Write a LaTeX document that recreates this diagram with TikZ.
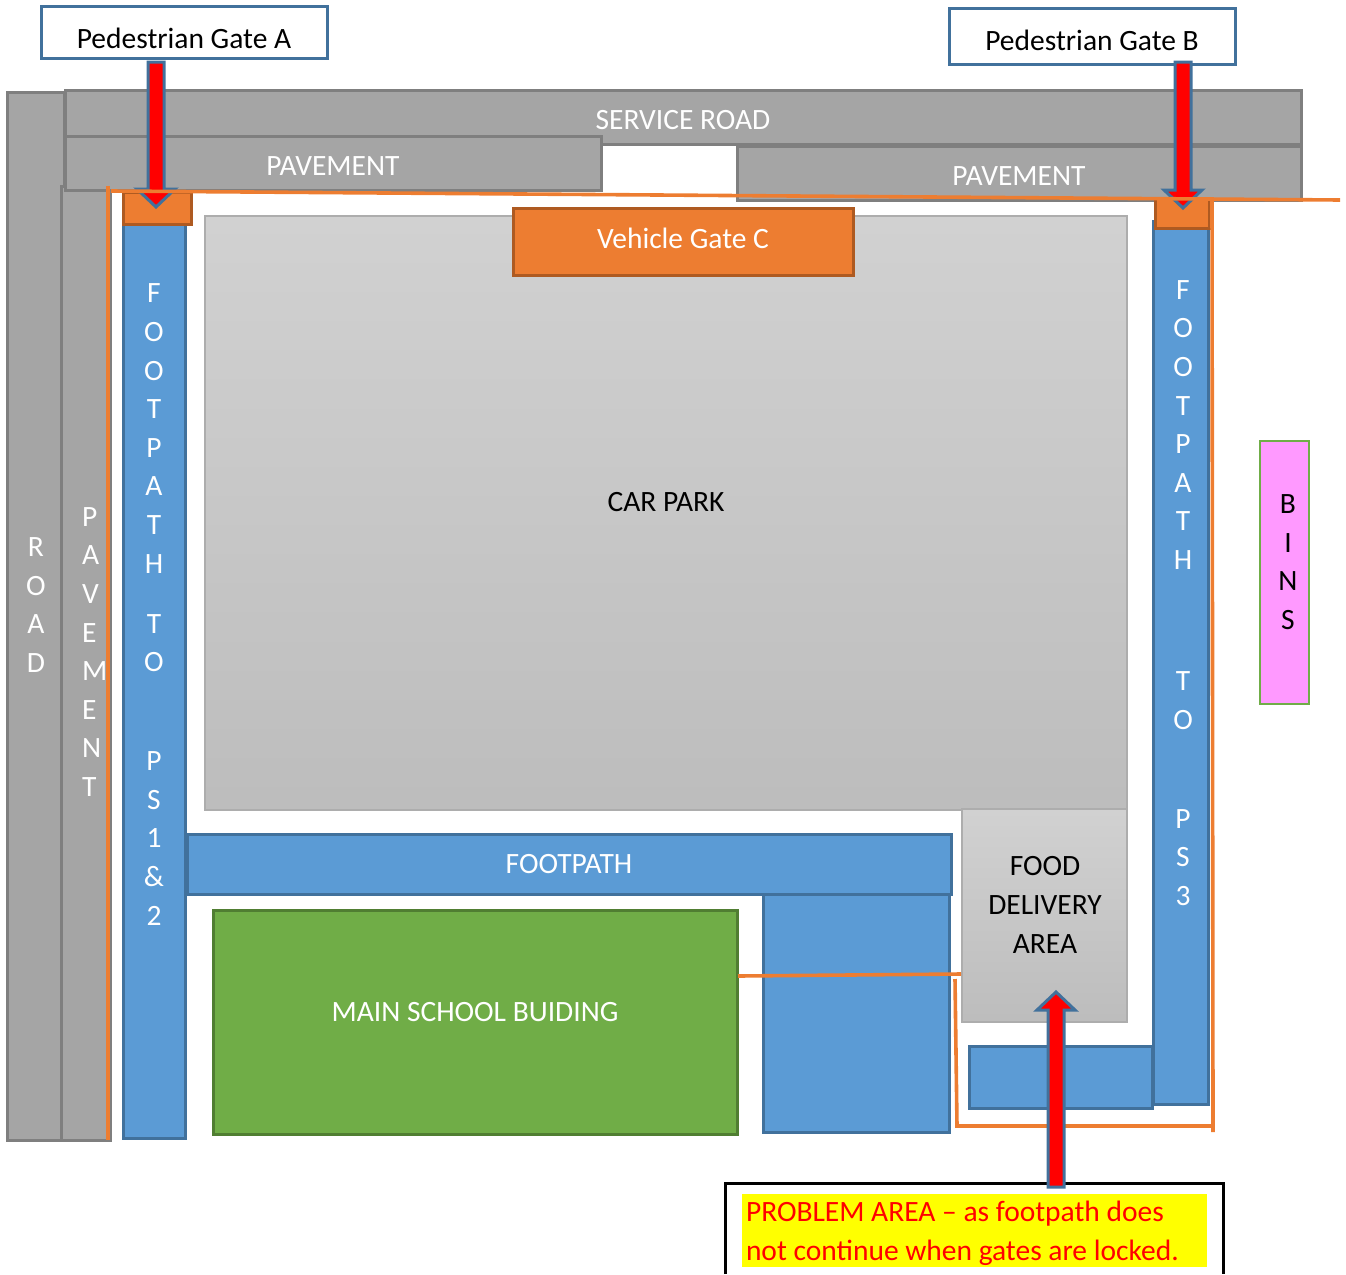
\documentclass[tikz,border=0pt]{standalone}
\usepackage{fontspec}
\setmainfont{Carlito}
\usetikzlibrary{calc}
\definecolor{roadgrey}{HTML}{A5A5A5}
\definecolor{roadedge}{HTML}{7F7F7F}
\definecolor{pathblue}{HTML}{5B9BD5}
\definecolor{pathedge}{HTML}{41719C}
\definecolor{gateorange}{HTML}{ED7D31}
\definecolor{gateedge}{HTML}{AE5A21}
\definecolor{schoolgreen}{HTML}{70AD47}
\definecolor{schooledge}{HTML}{507E32}
\definecolor{binpink}{HTML}{FF99FF}
\definecolor{notefill}{HTML}{FFFF00}
\definecolor{notered}{HTML}{FF0000}
\tikzset{
  area/.style={inner sep=0pt,outer sep=0pt,line width=3pt},
  road/.style={area,fill=roadgrey,draw=roadedge},
  footway/.style={area,fill=pathblue,draw=pathedge},
  gatebox/.style={area,fill=gateorange,draw=gateedge},
  parking/.style={area,line width=1.5pt,draw=black!32,top color=#1,bottom color=black!26},
  parking/.default=black!18,
  label/.style={inner sep=0pt,outer sep=0pt,font=\fontsize{29.5}{38.6}\selectfont,text=#1,align=center},
  label/.default=black,
  fence/.style={draw=gateorange,line width=3.6pt},
  redarrow/.style={fill=notered,draw=pathedge,line width=3pt,line join=miter},
  tagbox/.style={area,fill=white,draw=pathedge}
}
\newcommand{\zone}[6]{\node[#2,minimum width={#5-#3},minimum height={#6-#4},anchor=north west] (#1) at (#3,#4) {};}
\newcommand{\blockarrow}[3]{\draw[redarrow] let \p1=(#1),\p2=(#2) in
  (\x1-8pt,\y1)--(\x1+8pt,\y1)--(\x1+8pt,\y2+#3*18pt)--(\x1+19pt,\y2+#3*18pt)--(\x2,\y2)--(\x1-19pt,\y2+#3*18pt)--(\x1-8pt,\y2+#3*18pt)--cycle;}
\begin{document}
\begin{tikzpicture}[x=1pt,y=-1pt]
\useasboundingbox (0,0) rectangle (1346,1274);
\zone{road}{road}{7}{92}{64}{1140}
\zone{pavementleft}{road}{61}{186}{110}{1140}
\zone{serviceroad}{road}{65}{90}{1301}{144}
\zone{pavementa}{road}{65}{136}{601}{190}
\zone{pavementb}{road}{737}{146}{1301}{200}
\zone{footleft}{footway}{123}{222}{185}{1138}
\zone{gatea}{gatebox}{123}{192}{191}{224}
\zone{carpark}{parking}{205}{216}{1127}{810}
\zone{vehiclegate}{gatebox}{513}{208}{853}{275}
\zone{foothoriz}{footway}{187}{834}{951}{894}
\zone{block}{footway}{763}{894}{949}{1132}
\zone{school}{area,fill=schoolgreen,draw=schooledge}{213}{910}{737}{1134}
\zone{food}{parking}{962}{809}{1127}{1022}
\zone{footright}{footway}{1153}{221}{1208}{1104}
\zone{footlow}{footway}{969}{1046}{1152}{1108}
\zone{gateb}{gatebox}{1155}{198}{1209}{228}
\zone{bins}{area,line width=1.5pt,fill=binpink,draw=schoolgreen}{1260}{441}{1309}{704}
\zone{tagA}{tagbox}{41}{6}{327}{58}
\zone{tagB}{tagbox}{949}{8}{1235}{64}
\node[area,fill=notefill,minimum width=465pt,minimum height=73pt,anchor=north west] (problemfill) at (742,1194) {};
\draw[line width=3pt,draw=black] (725,1274) -- (725,1183) -- (1223,1183) -- (1223,1274);

\coordinate (aS) at (156,62); \coordinate (aT) at (156,207);
\coordinate (bS) at (1183,62); \coordinate (bT) at (1183,208);
\coordinate (cS) at (1056,1187); \coordinate (cT) at (1056,992);
\blockarrow{aS}{aT}{1}
\blockarrow{bS}{bT}{1}

\coordinate (f1) at (111,191); \coordinate (f2) at (1340,200);
\coordinate (f3) at (108,186); \coordinate (f4) at (108,1140);
\coordinate (f5) at (1212,197); \coordinate (f6) at (1213,1132);
\coordinate (f7) at (738,976); \coordinate (f8) at (961,974);
\coordinate (f9) at (955,979); \coordinate (f10) at (957,1126); \coordinate (f11) at (1213,1126);
\draw[fence] (f1) -- (f2);
\draw[fence] (f3) -- (f4);
\draw[fence] (f5) -- (f6);
\draw[fence] (f7) -- (f8);
\draw[fence] (f9) -- (f10) -- (f11);
\blockarrow{cS}{cT}{-1}

\node[label] (tA) at (184,38.5) {Pedestrian Gate A};
\node[label] (tB) at (1092,40.5) {Pedestrian Gate B};
\node[label=white] (tS) at (683,120.5) {SERVICE ROAD};
\node[label=white] (tP1) at (333,166.5) {PAVEMENT};
\node[label=white] (tP2) at (1019,176.5) {PAVEMENT};
\node[label=white] (tV) at (683,238) {Vehicle Gate C};
\node[label] (tC) at (666,502.5) {CAR PARK};
\node[label=white] (tF) at (569,864) {FOOTPATH};
\node[label=white] (tM) at (475,1012.5) {MAIN SCHOOL BUIDING};
\node[label] (tD) at (1045,905) {FOOD\\DELIVERY\\AREA};
\node[label=white] (tR) at (36,605) {R\\O\\A\\D};
\node[label=white,align=left,anchor=west] (tP3) at (82,652) {P\\A\\V\\E\\M\\E\\N\\T};
\node[label=white] (tL) at (154,604.5) {F\\O\\O\\T\\P\\A\\T\\H\\[21.4pt]T\\O\\[60.4pt]P\\S\\1\\\&\\2};
\node[label=white] (tRt) at (1183,593) {F\\O\\O\\T\\P\\A\\T\\H\\[82.4pt]T\\O\\[60.4pt]P\\S\\3};
\node[label] (tBins) at (1288,562) {B\\I\\N\\S};
\node[label=notered,align=left,anchor=west] (tProblem) at (746,1233.5) {PROBLEM AREA – as footpath does\\not continue when gates are locked.};
\end{tikzpicture}
\end{document}
